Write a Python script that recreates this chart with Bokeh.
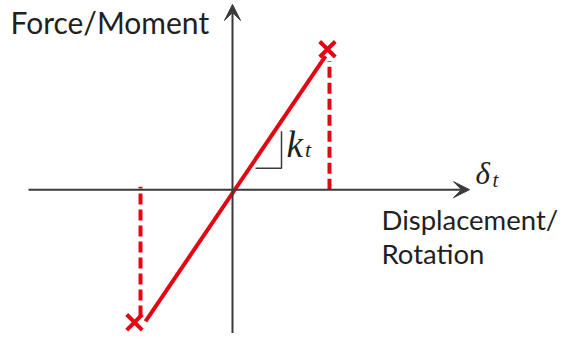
from bokeh.plotting import figure
from bokeh.models import Range1d, Arrow, VeeHead
from bokeh.core.properties import value
from bokeh.embed import file_html
from bokeh.resources import INLINE

# ---- data (abstract units, origin at 0) ----
line_x = [-0.87, 0.93]
line_y = [-1.35, 1.37]
marker_x = [-0.98, 0.95]
marker_y = [-1.36, 1.44]
dash_x = [-0.92, 0.97]
dash_top = [0.03, 1.32]
dash_bot = [-1.30, 0.0]
axis_x = [-2.04, 2.37]
axis_y = [-1.60, 1.90]
tri_x = [0.23, 0.49, 0.49]
tri_y = [0.22, 0.22, 0.60]

RED = "#e30613"
GREY = "#3a3a3a"
TXT = "#231f20"

p = figure(width=561, height=333, output_backend="svg", toolbar_location=None,
           x_range=Range1d(-2.32, 3.29), y_range=Range1d(-1.475, 1.94),
           min_border=0)
p.axis.visible = False
p.grid.visible = False
p.outline_line_color = None

# axes with arrows
p.add_layout(Arrow(end=VeeHead(size=16, line_color=GREY, fill_color=GREY, line_width=1),
                   x_start=axis_x[0], y_start=0, x_end=axis_x[1], y_end=0,
                   line_color=GREY, line_width=2))
p.add_layout(Arrow(end=VeeHead(size=16, line_color=GREY, fill_color=GREY, line_width=1),
                   x_start=0, y_start=axis_y[0], x_end=0, y_end=axis_y[1],
                   line_color=GREY, line_width=2))

# slope triangle
p.line(tri_x, tri_y, line_color=GREY, line_width=1.5)

# dashed lines
p.segment(x0=dash_x, y0=dash_bot, x1=dash_x, y1=dash_top,
          line_color=RED, line_width=4, line_dash="11 5")

# main line
p.line(line_x, line_y, line_color=RED, line_width=4)

# markers
p.scatter(marker_x, marker_y, marker="x", size=22, line_color=RED, line_width=4)

# labels
p.text(x=[-2.22], y=[1.718], text=["Force/Moment"], text_font=value("Lato"),
       text_font_size="30px", text_color=TXT, text_baseline="alphabetic")
p.text(x=[1.49, 1.49], y=[-0.303, -0.651], text=["Displacement/", "Rotation"],
       text_font=value("Lato"), text_font_size="27.5px", text_color=TXT,
       text_baseline="alphabetic")

# math labels
p.text(x=[2.43], y=[0.164], text=["δ"], text_font=value("Liberation Serif"),
       text_font_style="italic", text_font_size="31px", text_color=TXT,
       text_baseline="alphabetic")
p.text(x=[2.60], y=[0.103], text=["t"], text_font=value("Liberation Serif"),
       text_font_style="italic", text_font_size="21px", text_color=TXT,
       text_baseline="alphabetic")
p.text(x=[0.54], y=[0.46], text=["k"], text_font=value("Liberation Serif"),
       text_font_style="italic", text_font_size="37px", text_color=TXT,
       text_baseline="alphabetic")
p.text(x=[0.725], y=[0.41], text=["t"], text_font=value("Liberation Serif"),
       text_font_style="italic", text_font_size="22px", text_color=TXT,
       text_baseline="alphabetic")

open("out.html", "w").write(file_html(p, INLINE))
